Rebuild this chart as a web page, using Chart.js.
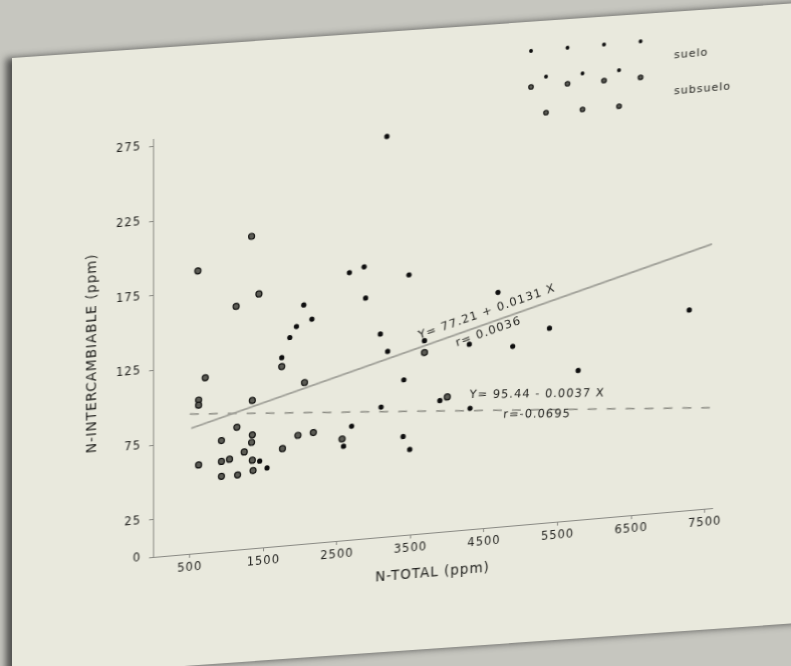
<!DOCTYPE html>
<html>
<head>
<meta charset="utf-8">
<script src="https://cdn.jsdelivr.net/npm/chart.js@4.4.0/dist/chart.umd.min.js"></script>
<style>
  html, body { margin: 0; padding: 0; background: #c6c6bf; overflow: hidden; }
  #hoja {
    position: absolute; left: 12px; top: 58px; width: 800px; height: 620px;
    background: #e9e9dd; transform: skewY(-4deg); transform-origin: 0 0;
    box-shadow: -6px 0 7px rgba(40, 40, 40, 0.75);
  }
  #wrap { position: absolute; left: 0; top: 1px; width: 791px; height: 666px; }
  /* la foto está tomada en ángulo: se inclina el lienzo igual */
  #grafico { transform: skewY(-5deg); transform-origin: 153px 556px; }
</style>
</head>
<body>
<div id="hoja"></div>
<div id="wrap"><canvas id="grafico" width="791" height="666"></canvas></div>
<script>
// Valores (N-total vs N-intercambiable, ppm)
const sueloX = [2050, 2160, 1950, 1860, 1750, 1450, 1550, 3180, 2870, 2670, 3480, 2890, 3090, 3190, 3690,
                4300, 3410, 3900, 3100, 4310, 2700, 2590, 3400, 3490, 4690, 4890, 5390, 7290, 5780];
const sueloY = [160, 150, 146, 139, 126, 58, 53, 268, 182, 179, 174, 161, 136, 124, 129,
                124, 104, 88, 87, 81, 76, 63, 66, 57, 157, 120, 130, 134, 100];

const subsueloX = [1340, 610, 1440, 1130, 1750, 710, 620, 620, 1350, 2060, 1140, 1350, 930, 1340, 1970,
                   2180, 1240, 1760, 620, 930, 1040, 1350, 930, 1150, 1360, 3690, 4000, 2570];
const subsueloY = [209, 189, 170, 163, 120, 117, 102.5, 99, 99, 108, 82, 76, 74, 71, 73,
                   74, 65, 65, 59, 60, 61, 59, 50, 50, 52, 121, 90, 68];

// rectas de regresión (extremos)
const recta1X = [520, 7600];
const recta1Y = [84.0, 176.8];
const recta2X = [500, 7570];
const recta2Y = [93.6, 67.4];

const xTicks = [500, 1500, 2500, 3500, 4500, 5500, 6500, 7500];
const yTicks = [0, 25, 75, 125, 175, 225, 275];

const TINTA = '#1f1f1c';
const FUENTE = "'DejaVu Sans', sans-serif";

function puntos(xs, ys) {
    return xs.map((x, i) => ({ x: x, y: ys[i] }));
}

// espaciado de letras como en el trazador original
const espaciado = {
    id: 'espaciado',
    beforeUpdate(chart) { chart.ctx.letterSpacing = '1px'; },
    beforeDraw(chart) { chart.ctx.letterSpacing = '1px'; }
};

// Ecuaciones de las rectas escritas a lo largo de ellas
const ecuaciones = {
    id: 'ecuaciones',
    afterDatasetsDraw(chart) {
        const { ctx, scales: { x, y } } = chart;
        const angulo = (xs, ys) => Math.atan2(
            y.getPixelForValue(ys[1]) - y.getPixelForValue(ys[0]),
            x.getPixelForValue(xs[1]) - x.getPixelForValue(xs[0]));
        const a1 = angulo(recta1X, recta1Y);
        const a2 = angulo(recta2X, recta2Y);
        const escribir = (texto, vx, vy, ang) => {
            ctx.save();
            ctx.translate(x.getPixelForValue(vx), y.getPixelForValue(vy));
            ctx.rotate(ang);
            ctx.font = '11.5px ' + FUENTE;
            ctx.fillStyle = TINTA;
            ctx.textAlign = 'center';
            ctx.textBaseline = 'middle';
            ctx.fillText(texto, 0, 0);
            ctx.restore();
        };
        escribir('Y= 77.21 + 0.0131 X', 4540, 144.5, a1);
        escribir('r= 0.0036', 4560, 131, a1);
        escribir('Y= 95.44 - 0.0037 X', 5220, 86.5, a2);
        escribir('r=-0.0695', 5220, 73, a2);
    }
};

// Leyenda con grupos de puntos, arriba a la derecha
const leyenda = {
    id: 'leyenda',
    afterDraw(chart) {
        const { ctx, chartArea } = chart;
        const ds = chart.data.datasets;
        const entradas = [
            { texto: 'suelo', d: ds[0], y: 100 },
            { texto: 'subsuelo', d: ds[1], y: 136 }
        ];
        const x0 = chartArea.right - 181;
        entradas.forEach(e => {
            ctx.save();
            ctx.fillStyle = e.d.backgroundColor;
            ctx.strokeStyle = e.d.borderColor;
            ctx.lineWidth = e.d.borderWidth;
            const filas = [[e.y - 17, 0, 4], [e.y + 10, 15, 3]];
            filas.forEach(([fy, dx, n]) => {
                for (let i = 0; i < n; i++) {
                    ctx.beginPath();
                    ctx.arc(x0 + dx + i * 36.5, fy, e.d.pointRadius * 0.75, 0, Math.PI * 2);
                    ctx.fill();
                    if (e.d.borderWidth) ctx.stroke();
                }
            });
            ctx.font = '11px ' + FUENTE;
            ctx.fillStyle = TINTA;
            ctx.textBaseline = 'middle';
            ctx.fillText(e.texto, chartArea.right - 38, e.y);
            ctx.restore();
        });
    }
};

new Chart(document.getElementById('grafico'), {
    type: 'scatter',
    data: {
        datasets: [
            {
                label: 'suelo',
                data: puntos(sueloX, sueloY),
                backgroundColor: '#0e0e0e',
                borderColor: '#0e0e0e',
                borderWidth: 0,
                pointRadius: 2.6
            },
            {
                label: 'subsuelo',
                data: puntos(subsueloX, subsueloY),
                backgroundColor: '#5c5c55',
                borderColor: '#161614',
                borderWidth: 1.2,
                pointRadius: 3
            },
            {
                label: 'recta suelo',
                data: puntos(recta1X, recta1Y),
                showLine: true,
                borderColor: '#a3a39b',
                borderWidth: 2,
                pointRadius: 0
            },
            {
                label: 'recta subsuelo',
                data: puntos(recta2X, recta2Y),
                showLine: true,
                borderColor: '#8e8e86',
                borderWidth: 1.5,
                borderDash: [9, 10],
                pointRadius: 0
            }
        ]
    },
    options: {
        responsive: false,
        animation: false,
        layout: { padding: { left: 75, top: 138, right: 79, bottom: 50 } },
        plugins: {
            legend: { display: false },
            tooltip: { enabled: false }
        },
        scales: {
            x: {
                type: 'linear',
                min: 0,
                max: 7600,
                afterBuildTicks: s => { s.ticks = xTicks.map(v => ({ value: v })); },
                afterFit: s => { s.height = 60; },
                grid: { drawOnChartArea: false, tickLength: 4, color: '#8a8a84' },
                border: { color: '#8a8a84', width: 1 },
                ticks: {
                    color: TINTA, padding: 3, maxRotation: 0,
                    font: { family: FUENTE, size: 11.5 },
                    callback: v => String(v)
                },
                title: {
                    display: true,
                    text: 'N-TOTAL (ppm)',
                    color: TINTA,
                    font: { family: FUENTE, size: 13.5 },
                    padding: { top: 0, bottom: 11 }
                }
            },
            y: {
                type: 'linear',
                min: 0,
                max: 280,
                afterBuildTicks: s => { s.ticks = yTicks.map(v => ({ value: v })); },
                afterFit: s => { s.width = 78; },
                grid: { drawOnChartArea: false, tickLength: 4, color: '#8a8a84' },
                border: { color: '#8a8a84', width: 1 },
                ticks: {
                    color: TINTA, padding: 8,
                    font: { family: FUENTE, size: 11.5 },
                    callback: v => String(v)
                },
                title: {
                    display: true,
                    text: 'N-INTERCAMBIABLE (ppm)',
                    color: TINTA,
                    font: { family: FUENTE, size: 13.5 },
                    padding: { top: 9, bottom: 0 }
                }
            }
        }
    },
    plugins: [espaciado, ecuaciones, leyenda]
});
</script>
</body>
</html>
